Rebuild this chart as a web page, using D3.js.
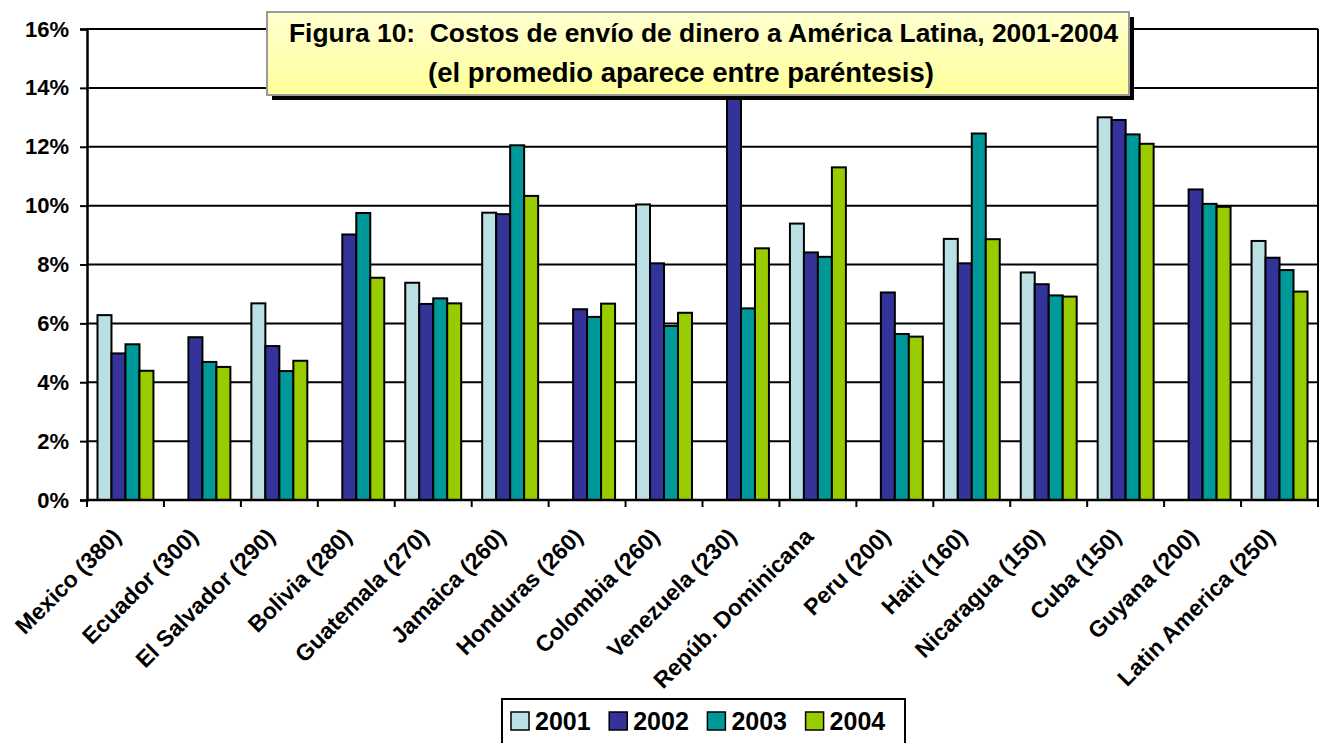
<!DOCTYPE html>
<html>
<head>
<meta charset="utf-8">
<script src="https://cdn.jsdelivr.net/npm/d3@7"></script>
<style>
  html, body { margin: 0; padding: 0; background: #fff; }
  svg { display: block; }
  text { font-family: "Liberation Sans", Arial, Helvetica, sans-serif; font-weight: bold; fill: #000; }
</style>
</head>
<body>
<svg id="chart" width="1320" height="743"></svg>
<script>
// Costs of sending money to Latin America, 2001-2004 (percent of amount sent)
const categories = [
  "Mexico (380)", "Ecuador (300)", "El Salvador (290)", "Bolivia (280)",
  "Guatemala (270)", "Jamaica (260)", "Honduras (260)", "Colombia (260)",
  "Venezuela (230)", "Repúb. Dominicana", "Peru (200)", "Haiti (160)",
  "Nicaragua (150)", "Cuba (150)", "Guyana (200)", "Latin America (250)"
];
const seriesNames = ["2001", "2002", "2003", "2004"];
const values2001 = [6.28, null, 6.68, null, 7.38, 9.76, null, 10.04, null, 9.39, null, 8.87, 7.73, 13.0, null, 8.8];
const values2002 = [4.98, 5.53, 5.23, 9.02, 6.66, 9.71, 6.48, 8.04, 14.6, 8.41, 7.05, 8.04, 7.33, 12.91, 10.55, 8.23];
const values2003 = [5.29, 4.69, 4.38, 9.75, 6.85, 12.05, 6.22, 5.91, 6.51, 8.26, 5.64, 12.45, 6.95, 12.42, 10.06, 7.81];
const values2004 = [4.39, 4.52, 4.73, 7.55, 6.68, 10.33, 6.67, 6.36, 8.55, 11.3, 5.55, 8.86, 6.91, 12.1, 9.96, 7.08];
const seriesColors = ["#BBE0E3", "#333399", "#009999", "#99CC00"];
const yTicks = [0, 2, 4, 6, 8, 10, 12, 14, 16];
const titleLines = [
  "Figura 10:  Costos de envío de dinero a América Latina, 2001-2004",
  "(el promedio aparece entre paréntesis)"
];

const seriesValues = [values2001, values2002, values2003, values2004];

const svg = d3.select("#chart");
const plot = { left: 87, right: 1318, top: 29, bottom: 500 };

const x = d3.scaleBand().domain(categories).range([plot.left, plot.right]).paddingInner(0).paddingOuter(0);
const xs = d3.scaleBand().domain(seriesNames).range([0, x.bandwidth()]).paddingInner(0).paddingOuter(0.75);
const y = d3.scaleLinear().domain([0, 16]).range([plot.bottom, plot.top]);

// horizontal gridlines
svg.append("g")
  .selectAll("line")
  .data(yTicks.filter(d => d > 0))
  .join("line")
  .attr("x1", plot.left).attr("x2", plot.right)
  .attr("y1", d => y(d)).attr("y2", d => y(d))
  .attr("stroke", "#000").attr("stroke-width", 2);

// plot area right border
svg.append("line")
  .attr("x1", plot.right).attr("x2", plot.right)
  .attr("y1", plot.top).attr("y2", plot.bottom)
  .attr("stroke", "#000").attr("stroke-width", 2);

// bars
const rows = categories.map((c, i) => ({ cat: c, vals: seriesNames.map((s, j) => ({ s, j, v: seriesValues[j][i] })) }));
svg.append("g")
  .selectAll("g")
  .data(rows)
  .join("g")
  .attr("transform", d => `translate(${x(d.cat)},0)`)
  .selectAll("rect")
  .data(d => d.vals.filter(v => v.v != null))
  .join("rect")
  .attr("x", d => xs(d.s))
  .attr("width", xs.bandwidth())
  .attr("y", d => y(d.v))
  .attr("height", d => y(0) - y(d.v))
  .attr("fill", d => seriesColors[d.j])
  .attr("stroke", "#000")
  .attr("stroke-width", 2);

// y axis
const yAxis = d3.axisLeft(y).tickValues(yTicks).tickFormat(d => d + "%").tickSize(7).tickPadding(11);
const gy = svg.append("g").attr("transform", `translate(${plot.left},0)`).call(yAxis);
gy.select(".domain").attr("stroke", "#000").attr("stroke-width", 2.5);
gy.selectAll(".tick line").attr("stroke", "#000").attr("stroke-width", 2);
gy.selectAll(".tick text").style("font-size", "22px").attr("font-family", null).attr("fill", "#000");

// x axis: ticks on category boundaries
const gx = svg.append("g").attr("transform", `translate(0,${plot.bottom})`);
gx.append("line").attr("x1", plot.left).attr("x2", plot.right).attr("stroke", "#000").attr("stroke-width", 2.5);
gx.selectAll("line.tk")
  .data(categories.map(c => x(c)).concat([plot.right]))
  .join("line").attr("class", "tk")
  .attr("x1", d => d).attr("x2", d => d).attr("y1", 0).attr("y2", 7)
  .attr("stroke", "#000").attr("stroke-width", 2);
gx.selectAll("text")
  .data(categories)
  .join("text")
  .attr("transform", d => `translate(${x(d) + x.bandwidth() / 2 - 3},38) rotate(-45)`)
  .attr("text-anchor", "end")
  .style("font-size", "23px")
  .text(d => d);

// title box with drop shadow
const tb = { x: 267, y: 12, w: 862, h: 83 };
const defs = svg.append("defs");
const grad = defs.append("linearGradient").attr("id", "titleFill").attr("x1", 0).attr("y1", 0).attr("x2", 0).attr("y2", 1);
grad.append("stop").attr("offset", "0%").attr("stop-color", "#FFFFD2");
grad.append("stop").attr("offset", "100%").attr("stop-color", "#FFFF99");
svg.append("rect").attr("x", tb.x + 5).attr("y", tb.y + 5).attr("width", tb.w).attr("height", tb.h).attr("fill", "#000");
svg.append("rect").attr("x", tb.x).attr("y", tb.y).attr("width", tb.w).attr("height", tb.h)
  .attr("fill", "url(#titleFill)").attr("stroke", "#9a9a9a").attr("stroke-width", 2);
svg.append("text").attr("x", 289).attr("y", 42).style("font-size", "26.4px").style("white-space", "pre")
  .attr("xml:space", "preserve").text(titleLines[0]);
svg.append("text").attr("x", 428).attr("y", 82).style("font-size", "27.5px").text(titleLines[1]);

// legend
const lg = svg.append("g");
lg.append("rect").attr("x", 502).attr("y", 699).attr("width", 403).attr("height", 70)
  .attr("fill", "#fff").attr("stroke", "#000").attr("stroke-width", 2);
const items = lg.selectAll("g.item").data(seriesNames).join("g").attr("class", "item")
  .attr("transform", (d, i) => `translate(${511 + i * 98.2},712)`);
items.append("rect").attr("width", 18).attr("height", 18)
  .attr("fill", (d, i) => seriesColors[i]).attr("stroke", "#000").attr("stroke-width", 1.5);
items.append("text").attr("x", 24).attr("y", 18).style("font-size", "25px").text(d => d);
</script>
</body>
</html>
